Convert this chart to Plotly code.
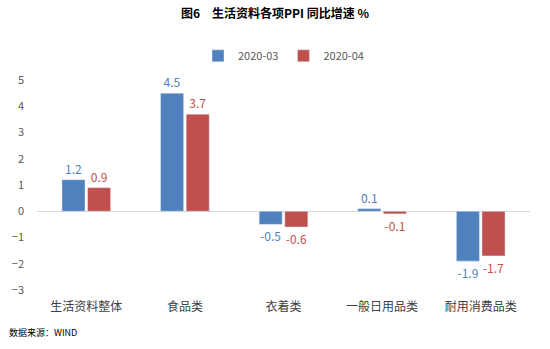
import plotly.graph_objects as go

categories = ["生活资料整体", "食品类", "衣着类", "一般日用品类", "耐用消费品类"]
series_2020_03 = [1.2, 4.5, -0.5, 0.1, -1.9]
series_2020_04 = [0.9, 3.7, -0.6, -0.1, -1.7]
y_ticks = [-3, -2, -1, 0, 1, 2, 3, 4, 5]

BLUE = "#4F81BD"
RED = "#C0504D"
FONT = "Noto Sans CJK SC, Microsoft YaHei, sans-serif"

fig = go.Figure()
fig.add_trace(go.Bar(
    name="2020-03", x=categories, y=series_2020_03, marker_color=BLUE,
    text=[f"{v:.1f}" for v in series_2020_03], textposition="outside",
    textfont=dict(color=BLUE, size=12, family=FONT), cliponaxis=False,
))
fig.add_trace(go.Bar(
    name="2020-04", x=categories, y=series_2020_04, marker_color=RED,
    text=[f"{v:.1f}" for v in series_2020_04], textposition="outside",
    textfont=dict(color=RED, size=12, family=FONT), cliponaxis=False,
))

fig.update_layout(
    width=550, height=349,
    margin=dict(l=37, r=20, t=80, b=59, autoexpand=False),
    paper_bgcolor="white", plot_bgcolor="white",
    barmode="group", bargap=0.48, bargroupgap=0.1,
    font=dict(family=FONT, size=11, color="#595959"),
    title=dict(text="<b>图6　生活资料各项PPI 同比增速 %</b>", x=0.5, xanchor="center",
               y=0.96, yanchor="middle", font=dict(size=12, color="#000000", family=FONT)),
    legend=dict(orientation="h", x=0.5, xanchor="center", y=0.84, yanchor="middle",
                yref="container", font=dict(size=11, color="#595959"),
                itemwidth=30, tracegroupgap=0, traceorder="normal"),
    showlegend=True,
    xaxis=dict(showgrid=False, showline=False, ticks="", ticklabelstandoff=8,
               tickfont=dict(size=12, color="#404040")),
    yaxis=dict(range=[-3, 5], tickvals=y_ticks, showgrid=False, zeroline=True,
               zerolinecolor="#D9D9D9", zerolinewidth=1, showline=False, ticks="",
               tickfont=dict(size=11, color="#595959"), ticklabelstandoff=12),
    annotations=[dict(text="数据来源：WIND", xref="paper", yref="paper", x=-0.06, y=-0.2,
                      xanchor="left", yanchor="middle", showarrow=False,
                      font=dict(size=9, color="#000000", family=FONT))],
)

fig.write_html("out.html")
